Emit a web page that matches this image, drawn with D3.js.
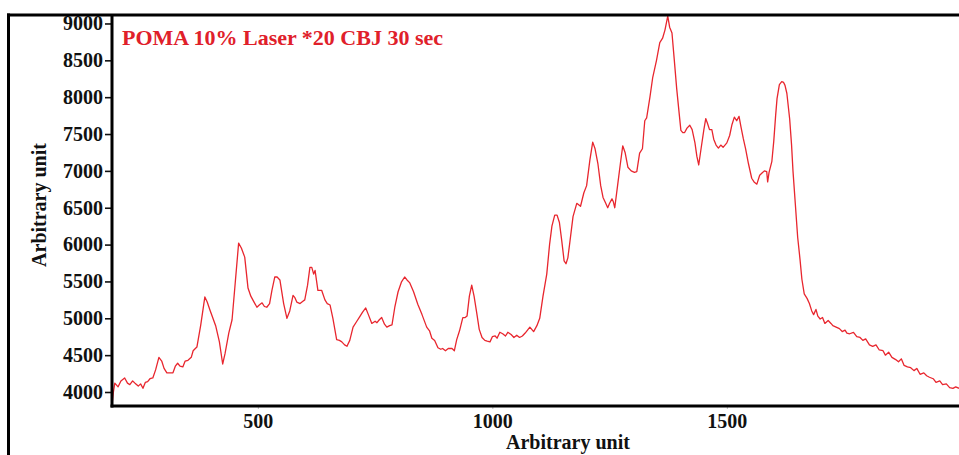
<!DOCTYPE html>
<html>
<head>
<meta charset="utf-8">
<script src="https://cdn.jsdelivr.net/npm/d3@7"></script>
<style>
  html, body { margin: 0; padding: 0; background: #fff; }
  svg { display: block; }
  .tick text { font-family: "Liberation Serif", "Times New Roman", serif; font-weight: bold; }
</style>
</head>
<body>
<svg id="chart" width="959" height="455"></svg>
<script>
// Spectrum: position (arbitrary unit) and intensity (arbitrary unit)
const positions = [
  189,192,195,202,208,216,222,227,233,238,245,250,255,260,265,270,276,282,289,295,
  300,306,313,319,324,329,334,340,345,351,358,362,370,378,387,392,398,410,418,425,
  430,438,445,452,459,465,472,479,485,491,498,503,509,514,519,525,530,536,541,547,
  555,562,568,575,579,583,590,596,600,606,611,615,619,622,628,636,643,648,654,660,
  668,674,679,685,690,696,703,710,717,723,730,735,743,750,754,759,764,770,775,781,
  786,792,799,806,813,818,824,832,841,850,860,866,871,877,884,890,894,900,906,914,
  919,924,930,937,942,946,951,956,961,967,972,978,984,989,995,1000,1006,1010,1016,1022,
  1028,1033,1040,1046,1052,1058,1064,1070,1075,1080,1088,1095,1101,1108,1116,1122,1127,1133,1138,1143,
  1148,1153,1157,1161,1165,1172,1180,1184,1188,1195,1201,1208,1214,1219,1225,1231,1236,1241,1246,1250,
  1255,1258,1261,1267,1273,1278,1283,1289,1296,1303,1308,1314,1320,1325,1329,1336,1342,1350,1357,1363,
  1368,1374,1378,1383,1388,1393,1398,1402,1406,1410,1415,1421,1426,1432,1436,1440,1445,1451,1455,1459,
  1463,1468,1472,1477,1482,1487,1492,1500,1506,1511,1516,1521,1526,1530,1535,1540,1546,1553,1558,1564,
  1570,1575,1580,1585,1587,1590,1596,1600,1604,1607,1612,1617,1621,1624,1628,1634,1638,1641,1646,1651,
  1656,1660,1665,1671,1676,1681,1685,1690,1694,1699,1704,1709,1716,1722,1726,1733,1740,1746,1752,1756,
  1762,1770,1777,1784,1790,1796,1804,1811,1818,1825,1833,1838,1845,1852,1860,1866,1872,1878,1885,1892,
  1899,1905,1912,1920,1926,1932,1940,1946,1954,1960,1968,1975,1982,1988,1995
];
const intensities = [
  3820,4000,4120,4070,4150,4190,4120,4100,4150,4120,4080,4110,4050,4130,4140,4180,4190,4300,4470,4420,
  4320,4260,4260,4260,4350,4390,4350,4340,4420,4430,4470,4560,4610,4900,5290,5220,5110,4900,4680,4380,
  4520,4800,4980,5500,6020,5950,5830,5410,5300,5230,5150,5180,5210,5160,5150,5200,5380,5560,5560,5520,
  5200,5000,5100,5310,5280,5220,5200,5230,5250,5450,5690,5690,5600,5650,5380,5380,5250,5200,5180,5000,
  4710,4700,4680,4640,4620,4700,4880,4950,5020,5080,5140,5060,4930,4960,4940,4980,5010,4920,4880,4900,
  4910,5150,5360,5490,5560,5520,5480,5360,5190,5050,4880,4830,4730,4700,4600,4580,4590,4560,4590,4590,
  4560,4710,4830,5010,5010,5030,5300,5450,5300,5060,4850,4740,4700,4690,4680,4750,4760,4730,4810,4790,
  4760,4810,4780,4740,4770,4740,4760,4800,4840,4880,4820,4900,5000,5300,5600,6000,6250,6400,6400,6300,
  6050,5780,5740,5820,6020,6380,6560,6540,6520,6700,6800,7150,7390,7300,7100,6800,6640,6570,6500,6560,
  6620,6580,6500,6800,7100,7340,7250,7050,7000,6980,6990,7240,7300,7680,7720,8000,8270,8500,8740,8800,
  8910,9100,8950,8870,8500,8120,7800,7550,7520,7520,7580,7620,7560,7380,7200,7080,7300,7560,7710,7640,
  7560,7560,7430,7350,7310,7350,7320,7380,7480,7630,7730,7680,7740,7600,7440,7300,7100,6900,6850,6820,
  6940,6970,7000,6990,6850,6980,7130,7400,7750,7980,8170,8210,8200,8160,8050,7700,7350,7000,6550,6100,
  5800,5530,5330,5270,5200,5100,5050,5120,5030,4990,5010,4930,4970,4930,4900,4880,4860,4820,4840,4800,
  4790,4810,4750,4740,4700,4720,4640,4620,4640,4570,4560,4500,4540,4470,4440,4410,4450,4360,4340,4330,
  4290,4320,4240,4260,4220,4200,4180,4130,4150,4100,4110,4060,4050,4070,4050
];
const yTicks = [4000, 4500, 5000, 5500, 6000, 6500, 7000, 7500, 8000, 8500, 9000];
const xTicks = [500, 1000, 1500];
const titleText = "POMA 10% Laser *20 CBJ 30 sec";
const xAxisTitle = "Arbitrary unit";
const yAxisTitle = "Arbitrary unit";

const svg = d3.select("#chart");
const serif = '"Liberation Serif", "Times New Roman", serif';

const plot = { left: 112, right: 959, top: 15, bottom: 406 };

const x = d3.scaleLinear().domain([189, 1995]).range([plot.left, plot.right]);
const y = d3.scaleLinear().domain([3810, 9115]).range([plot.bottom, plot.top]);

const data = positions.map((p, i) => ({ p, v: intensities[i] }));

// clip the trace to the plotting area
svg.append("clipPath").attr("id", "plotClip")
  .append("rect")
  .attr("x", plot.left).attr("y", plot.top)
  .attr("width", plot.right - plot.left).attr("height", plot.bottom - plot.top);

// spectrum trace
svg.append("path")
  .datum(data)
  .attr("clip-path", "url(#plotClip)")
  .attr("fill", "none")
  .attr("stroke", "#e8262e")
  .attr("stroke-width", 1.3)
  .attr("stroke-linejoin", "round")
  .attr("d", d3.line().x(d => x(d.p)).y(d => y(d.v)));

// y axis
const yAxis = svg.append("g")
  .attr("transform", `translate(${plot.left},0)`)
  .call(d3.axisLeft(y).tickValues(yTicks).tickSize(7).tickPadding(2).tickFormat(d3.format("d")));
yAxis.select(".domain").remove();
yAxis.selectAll(".tick line").attr("stroke", "#111").attr("stroke-width", 1.6);
yAxis.selectAll(".tick text").attr("font-size", 20).attr("fill", "#111");

// x axis
const xAxis = svg.append("g")
  .attr("transform", `translate(0,${plot.bottom})`)
  .call(d3.axisBottom(x).tickValues(xTicks).tickSize(3).tickPadding(5).tickFormat(d3.format("d")));
xAxis.select(".domain").remove();
xAxis.selectAll(".tick line").attr("stroke", "#bbb").attr("stroke-width", 1);
xAxis.selectAll(".tick text").attr("font-size", 20).attr("fill", "#111");

// frame lines
const frame = svg.append("g").attr("stroke", "#000").attr("stroke-width", 3).attr("fill", "none");
frame.append("line").attr("x1", 7).attr("x2", 959).attr("y1", plot.top).attr("y2", plot.top);
frame.append("line").attr("x1", 8.5).attr("x2", 8.5).attr("y1", plot.top - 1.5).attr("y2", 455);
frame.append("line").attr("x1", plot.left).attr("x2", plot.left).attr("y1", plot.top).attr("y2", plot.bottom + 1.5);
frame.append("line").attr("x1", plot.left - 1.5).attr("x2", 959).attr("y1", plot.bottom).attr("y2", plot.bottom);

// title inside the plot
svg.append("text")
  .attr("x", 122).attr("y", 45)
  .attr("font-family", serif).attr("font-weight", "bold").attr("font-size", 22)
  .attr("fill", "#e0202a")
  .text(titleText);

// axis titles
svg.append("text")
  .attr("x", 568).attr("y", 449)
  .attr("text-anchor", "middle")
  .attr("font-family", serif).attr("font-weight", "bold").attr("font-size", 20)
  .attr("fill", "#111")
  .text(xAxisTitle);

svg.append("text")
  .attr("transform", "translate(46,205) rotate(-90)")
  .attr("text-anchor", "middle")
  .attr("font-family", serif).attr("font-weight", "bold").attr("font-size", 20)
  .attr("fill", "#111")
  .text(yAxisTitle);
</script>
</body>
</html>
